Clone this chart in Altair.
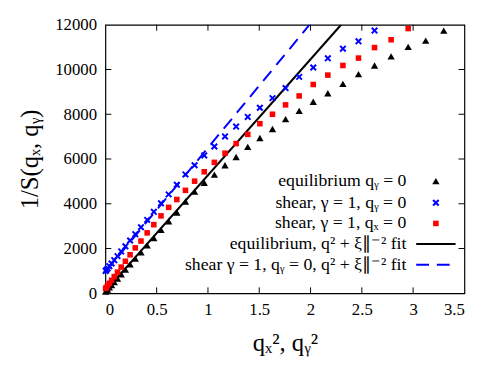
import altair as alt
import pandas as pd

# q^2 values (n = 1..37)
q2 = [0.0024, 0.0096, 0.0217, 0.0386, 0.0602, 0.0867, 0.1181, 0.1542, 0.1952, 0.2410,
      0.2916, 0.3470, 0.4072, 0.4723, 0.5422, 0.6169, 0.6964, 0.7807, 0.8698, 0.9638,
      1.0626, 1.1663, 1.2747, 1.3880, 1.5060, 1.6289, 1.7566, 1.8891, 2.0264, 2.1686,
      2.3156, 2.4674, 2.6240, 2.7855, 2.9517, 3.1228, 3.2987]

eq_y = [70, 110, 170, 260, 370, 500, 660, 850, 1060, 1290,
        1550, 1830, 2140, 2470, 2830, 3210, 3610, 4100, 4540, 4940,
        5300, 5720, 6090, 6540, 6940, 7340, 7780, 8150, 8560, 8940,
        9360, 9790, 10180, 10590, 11010, 11290, 11740]

shear_qy0 = [1000, 1040, 1110, 1210, 1330, 1480, 1660, 1870, 2100, 2360,
             2640, 2950, 3280, 3640, 4020, 4420, 4850, 5310, 5720, 6160,
             6560, 7010, 7450, 7880, 8290, 8720, 9170, 9670, 10090, 10500,
             10930, 11260, 11740]

shear_qx0 = [215, 260, 340, 445, 580, 745, 945, 1170, 1430, 1720,
             2030, 2335, 2700, 3066, 3460, 3840, 4190, 4600, 5010, 5430,
             5850, 6260, 6690, 7100, 7580, 8000, 8420, 8820, 9330, 9750,
             10180, 10510, 10980, 11330, 11830]

eq_fit_x = [0.0, 2.298]
eq_fit_y = [100, 12000]
sh_fit_x = [0.0, 1.99]
sh_fit_y = [950, 12000]

x_ticks = [0.5, 1.0, 1.5, 2.0, 2.5, 3.0]
y_ticks = [2000, 4000, 6000, 8000, 10000]

legend_labels = [
    "equilibrium qᵧ = 0",
    "shear, γ = 1, qᵧ = 0",
    "shear, γ = 1, qₓ = 0",
    "equilibrium, q² + ξ∥⁻² fit",
    "shear γ = 1, qᵧ = 0, q² + ξ∥⁻² fit",
]

W, H = 365, 273
FONT = "Liberation Serif"

xs = alt.Scale(domain=[0, 3.5], nice=False)
ys = alt.Scale(domain=[0, 12000], nice=False)

xax = alt.Axis(values=[0, 0.5, 1, 1.5, 2, 2.5, 3, 3.5], format="~g", tickSize=0, domain=False,
               grid=False, labelFont=FONT, labelFontSize=17, labelPadding=9, labelColor="black",
               title="qₓ², qᵧ²", titleFont=FONT, titleFontSize=25, titleFontWeight="normal",
               titlePadding=13, titleColor="black")
yax = alt.Axis(values=[0, 2000, 4000, 6000, 8000, 10000, 12000], format="d", tickSize=0, domain=False,
               grid=False, labelFont=FONT, labelFontSize=17, labelPadding=9, labelColor="black",
               title="1/S(qₓ, qᵧ)", titleFont=FONT, titleFontSize=25, titleFontWeight="normal",
               titlePadding=12, titleColor="black")

df_eq = pd.DataFrame({"x": q2[:len(eq_y)], "y": eq_y})
df_sy = pd.DataFrame({"x": q2[:len(shear_qy0)], "y": shear_qy0})
df_sx = pd.DataFrame({"x": q2[:len(shear_qx0)], "y": shear_qx0})
df_eqf = pd.DataFrame({"x": eq_fit_x, "y": eq_fit_y})
df_shf = pd.DataFrame({"x": sh_fit_x, "y": sh_fit_y})
df_xt = pd.DataFrame({"t": x_ticks})
df_yt = pd.DataFrame({"t": y_ticks})

XSHAPE = "M-1,-1L1,1M1,-1L-1,1"
XSIZE = 32

base_axes = alt.Chart(df_eq).mark_point(opacity=0).encode(
    x=alt.X("x:Q", scale=xs, axis=xax),
    y=alt.Y("y:Q", scale=ys, axis=yax),
)

eq_fit = alt.Chart(df_eqf).mark_line(color="black", strokeWidth=2, clip=True).encode(
    x=alt.X("x:Q", scale=xs), y=alt.Y("y:Q", scale=ys))
sh_fit = alt.Chart(df_shf).mark_line(color="#0000ff", strokeWidth=2, strokeDash=[13, 8], clip=True).encode(
    x=alt.X("x:Q", scale=xs), y=alt.Y("y:Q", scale=ys))

tri = alt.Chart(df_eq).mark_point(shape="triangle-up", filled=True, color="black", size=55, opacity=1).encode(
    x=alt.X("x:Q", scale=xs), y=alt.Y("y:Q", scale=ys))
crs = alt.Chart(df_sy).mark_point(shape=XSHAPE, filled=False, color="#0000ff", size=XSIZE, strokeWidth=2, opacity=1).encode(
    x=alt.X("x:Q", scale=xs), y=alt.Y("y:Q", scale=ys))
sq = alt.Chart(df_sx).mark_point(shape="square", filled=True, color="#ff0000", size=32, opacity=1).encode(
    x=alt.X("x:Q", scale=xs), y=alt.Y("y:Q", scale=ys))

# inward ticks on all four sides
xt_bottom = alt.Chart(df_xt).mark_rule(color="black", strokeWidth=1).encode(
    x=alt.X("t:Q", scale=xs), y=alt.value(H), y2=alt.value(H - 6))
xt_top = alt.Chart(df_xt).mark_rule(color="black", strokeWidth=1).encode(
    x=alt.X("t:Q", scale=xs), y=alt.value(0), y2=alt.value(6))
yt_left = alt.Chart(df_yt).mark_rule(color="black", strokeWidth=1).encode(
    y=alt.Y("t:Q", scale=ys), x=alt.value(0), x2=alt.value(6))
yt_right = alt.Chart(df_yt).mark_rule(color="black", strokeWidth=1).encode(
    y=alt.Y("t:Q", scale=ys), x=alt.value(W - 6), x2=alt.value(W))

# manual legend (label right-aligned, key on the right)
row_y = [159, 181, 202, 223, 244]
lab_x, key_x, line_x0, line_x1 = 306, 336, 316, 356
leg_layers = []
for lab, yy in zip(legend_labels, row_y):
    leg_layers.append(alt.Chart(pd.DataFrame({"l": [lab]})).mark_text(
        align="right", baseline="middle", font=FONT, fontSize=18, color="black").encode(
        text="l:N", x=alt.value(lab_x), y=alt.value(yy)))
key_df = pd.DataFrame({"k": [0]})
leg_layers.append(alt.Chart(key_df).mark_point(shape="triangle-up", filled=True, color="black", size=55, opacity=1).encode(
    x=alt.value(key_x), y=alt.value(row_y[0])))
leg_layers.append(alt.Chart(key_df).mark_point(shape=XSHAPE, filled=False, color="#0000ff", size=XSIZE, strokeWidth=2, opacity=1).encode(
    x=alt.value(key_x), y=alt.value(row_y[1])))
leg_layers.append(alt.Chart(key_df).mark_point(shape="square", filled=True, color="#ff0000", size=32, opacity=1).encode(
    x=alt.value(key_x), y=alt.value(row_y[2])))
leg_layers.append(alt.Chart(key_df).mark_rule(color="black", strokeWidth=2).encode(
    x=alt.value(line_x0), x2=alt.value(line_x1), y=alt.value(row_y[3])))
leg_layers.append(alt.Chart(key_df).mark_rule(color="#0000ff", strokeWidth=2, strokeDash=[13, 8]).encode(
    x=alt.value(line_x0), x2=alt.value(line_x1), y=alt.value(row_y[4])))

chart = alt.layer(
    base_axes, xt_bottom, xt_top, yt_left, yt_right,
    eq_fit, sh_fit, tri, crs, sq, *leg_layers
).properties(
    width=W, height=H,
    autosize=alt.AutoSizeParams(type="none"),
    padding={"left": 99, "top": 14, "right": 25, "bottom": 77},
    background="white",
).configure_view(stroke="black", strokeWidth=1.2)

chart.save("out.html", embed_options={"renderer": "svg", "actions": False})
